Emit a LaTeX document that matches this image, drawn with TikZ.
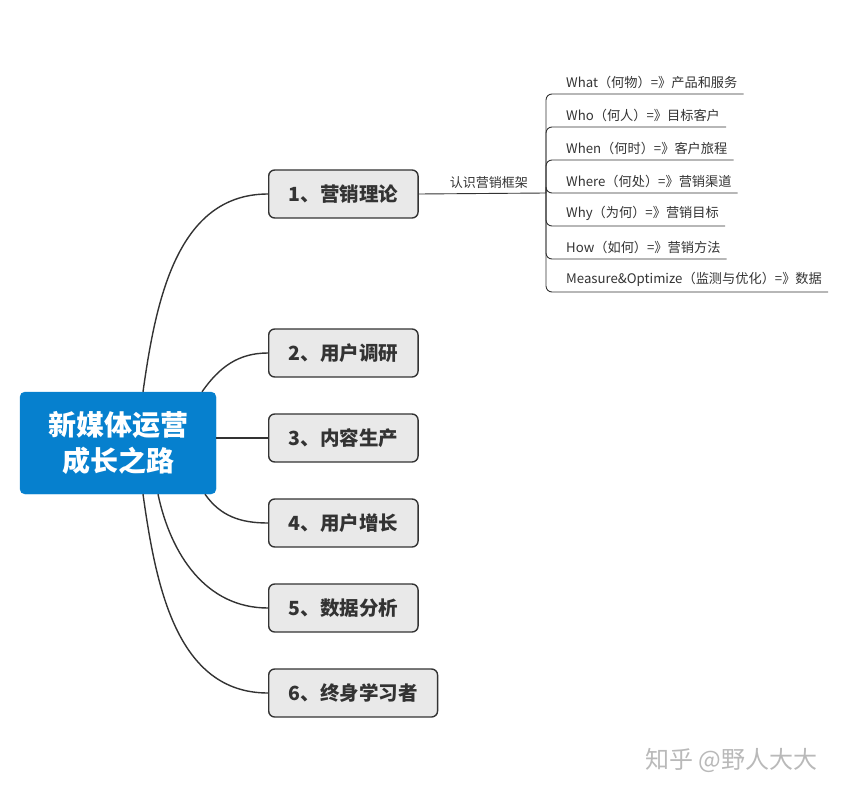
\documentclass[tikz,border=0pt]{standalone}
\usepackage{fontspec}
\setmainfont{Noto Sans CJK SC}
\usepackage{xcolor}
\definecolor{rootblue}{RGB}{6,128,206}
\definecolor{boxgrey}{RGB}{233,233,233}
\definecolor{linegrey}{RGB}{51,51,51}

\tikzset{
  root/.style={draw=rootblue, fill=rootblue, rounded corners=5pt, text=white,
    font=\fontsize{28}{36}\selectfont\bfseries, align=center,
    minimum width=196pt, minimum height=102pt},
  branch/.style={draw=linegrey, fill=boxgrey, rounded corners=6pt, line width=1.4pt,
    font=\fontsize{19.5}{22}\selectfont\bfseries, text=linegrey,
    inner xsep=20pt, minimum height=48pt, anchor=west},
  leaf/.style={font=\fontsize{13.2}{15}\selectfont, text=linegrey,
    anchor=south west, inner xsep=6pt, inner ysep=5pt},
  link/.style={draw=linegrey, line width=1.4pt},
  twig/.style={draw=linegrey, line width=0.9pt, rounded corners=6pt}
}

\begin{document}
\begin{tikzpicture}[x=1pt,y=-1pt]
                \useasboundingbox (0,0) rectangle (845,794);

                \node[root] (root) at (118,443) {新媒体运营\\成长之路};

                \node[branch] (theory) at (268,194) {1、营销理论};
                \node[branch] (research) at (268,353) {2、用户调研};
                \node[branch] (content) at (268,438) {3、内容生产};
                \node[branch] (growth) at (268,523) {4、用户增长};
                \node[branch] (data) at (268,608) {5、数据分析};
                \node[branch] (learner) at (268,693) {6、终身学习者};

                \draw[link] ([xshift=25pt]root.north) to[out=82,in=180] (theory.west);
                \draw[link] ([xshift=84pt]root.north) to[out=55,in=180] (research.west);
                \draw[link] (root.east |- content.west) -- (content.west);
                \draw[link] ([xshift=87pt]root.south) to[out=-55,in=180] (growth.west);
                \draw[link] ([xshift=40pt]root.south) to[out=-78,in=180] (data.west);
                \draw[link] ([xshift=25pt]root.south) to[out=-82,in=180] (learner.west);

                % framework fork
                \coordinate (fork) at (546,193);
                \draw[twig] (theory.east) -- node[pos=0.55, above=1pt, font=\fontsize{13}{15}\selectfont, text=linegrey] (frame) {认识营销框架} (fork);

                \node[leaf] (what) at (560,94) {What（何物）=》产品和服务};
                \node[leaf] (who) at (560,127) {Who（何人）=》目标客户};
                \node[leaf] (when) at (560,160) {When（何时）=》客户旅程};
                \node[leaf] (where) at (560,193) {Where（何处）=》营销渠道};
                \node[leaf] (why) at (560,226) {Why（为何）=》营销目标};
                \node[leaf] (how) at (560,259) {How（如何）=》营销方法};
                \node[leaf] (measure) at (560,292) {Measure\&Optimize（监测与优化）=》数据};

                \foreach \leafname in {what,who,when,where,why,how,measure}
                  \draw[twig] (fork) |- (\leafname.south east);

                \node[font=\fontsize{24}{26}\selectfont, text=gray!55, anchor=west] (mark) at (642,760) {知乎 @野人大大};
            \end{tikzpicture}
\end{document}
